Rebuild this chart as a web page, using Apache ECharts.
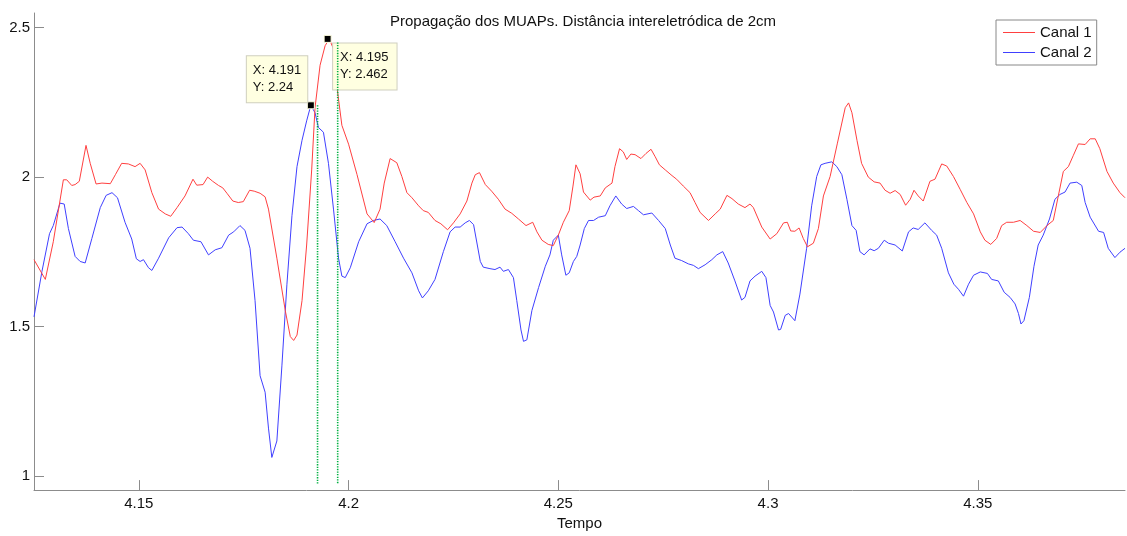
<!DOCTYPE html>
<html><head><meta charset="utf-8">
<script src="https://cdn.jsdelivr.net/npm/echarts@6/dist/echarts.min.js"></script>
<style>html,body{margin:0;padding:0;background:#fff}#c{width:1127px;height:536px}</style>
</head><body><div id="c"></div>
<script>
const titleText = 'Propagação dos MUAPs. Distância intereletródica de 2cm';
const xName = 'Tempo';
const seriesNames = ['Canal 1', 'Canal 2'];
const xTicks = [4.15, 4.2, 4.25, 4.3, 4.35];
const yTicks = [1, 1.5, 2, 2.5];

const canal1T = [4.1250,4.1277,4.1296,4.1320,4.1328,4.1340,4.1348,4.1358,4.1374,4.1384,4.1398,4.1412,4.1432,4.1444,4.1459,4.1475,4.1491,4.1503,4.1515,4.1531,4.1547,4.1563,4.1576,4.1591,4.1610,4.1629,4.1638,4.1653,4.1664,4.1676,4.1690,4.1700,4.1710,4.1724,4.1737,4.1749,4.1764,4.1775,4.1789,4.1801,4.1809,4.1829,4.1849,4.1861,4.1869,4.1877,4.1889,4.1900,4.1912,4.1920,4.1932,4.1944,4.1954,4.1964,4.1972,4.1984,4.2000,4.2020,4.2044,4.2061,4.2075,4.2085,4.2099,4.2115,4.2127,4.2139,4.2151,4.2167,4.2178,4.2190,4.2206,4.2220,4.2236,4.2250,4.2266,4.2282,4.2294,4.2302,4.2312,4.2326,4.2341,4.2357,4.2373,4.2389,4.2405,4.2423,4.2439,4.2449,4.2461,4.2476,4.2488,4.2500,4.2512,4.2526,4.2535,4.2542,4.2552,4.2560,4.2576,4.2585,4.2600,4.2612,4.2628,4.2635,4.2646,4.2655,4.2663,4.2673,4.2683,4.2697,4.2709,4.2721,4.2731,4.2741,4.2755,4.2771,4.2782,4.2798,4.2814,4.2826,4.2838,4.2858,4.2874,4.2886,4.2902,4.2914,4.2929,4.2945,4.2957,4.2965,4.2985,4.3005,4.3021,4.3037,4.3046,4.3054,4.3064,4.3074,4.3084,4.3094,4.3108,4.3120,4.3132,4.3148,4.3165,4.3184,4.3192,4.3200,4.3212,4.3223,4.3239,4.3253,4.3267,4.3279,4.3291,4.3303,4.3315,4.3328,4.3339,4.3348,4.3358,4.3370,4.3386,4.3398,4.3414,4.3426,4.3442,4.3458,4.3474,4.3490,4.3506,4.3517,4.3531,4.3545,4.3557,4.3569,4.3585,4.3601,4.3617,4.3633,4.3649,4.3665,4.3680,4.3692,4.3704,4.3716,4.3728,4.3740,4.3756,4.3768,4.3780,4.3791,4.3808,4.3823,4.3839,4.3851];
const canal1V = [1.724,1.658,1.784,1.991,1.991,1.972,1.975,1.986,2.106,2.046,1.977,1.980,1.978,2.008,2.046,2.044,2.035,2.046,2.024,1.948,1.893,1.877,1.869,1.898,1.937,1.993,1.973,1.975,2.000,1.986,1.972,1.964,1.946,1.920,1.915,1.918,1.956,1.953,1.946,1.934,1.893,1.729,1.554,1.467,1.454,1.472,1.587,1.773,2.024,2.232,2.374,2.439,2.462,2.428,2.304,2.173,2.110,2.009,1.877,1.848,1.893,1.980,2.062,2.048,2.002,1.948,1.931,1.904,1.888,1.882,1.855,1.844,1.824,1.847,1.877,1.920,1.980,2.008,2.015,1.975,1.953,1.926,1.893,1.879,1.860,1.838,1.849,1.817,1.789,1.775,1.771,1.806,1.849,1.888,1.970,2.041,2.011,1.950,1.923,1.933,1.937,1.964,1.980,2.035,2.095,2.084,2.059,2.077,2.075,2.062,2.079,2.093,2.068,2.041,2.024,2.005,1.993,1.970,1.948,1.915,1.882,1.855,1.877,1.893,1.939,1.928,1.910,1.898,1.910,1.898,1.833,1.793,1.811,1.847,1.849,1.820,1.819,1.830,1.795,1.767,1.779,1.828,1.937,2.002,2.111,2.232,2.248,2.215,2.123,2.046,2.000,1.984,1.980,1.956,1.946,1.955,1.942,1.906,1.926,1.956,1.937,1.920,1.986,1.993,2.044,2.037,2.002,1.959,1.915,1.877,1.817,1.789,1.775,1.795,1.838,1.849,1.849,1.855,1.838,1.819,1.815,1.838,1.855,1.937,2.019,2.035,2.073,2.111,2.109,2.128,2.128,2.095,2.019,1.980,1.948,1.931];

const canal2T = [4.1250,4.1269,4.1287,4.1296,4.1312,4.1322,4.1332,4.1348,4.1360,4.1372,4.1388,4.1408,4.1422,4.1436,4.1449,4.1467,4.1483,4.1494,4.1503,4.1511,4.1523,4.1531,4.1547,4.1571,4.1591,4.1603,4.1618,4.1630,4.1648,4.1666,4.1682,4.1698,4.1714,4.1726,4.1741,4.1753,4.1765,4.1777,4.1789,4.1801,4.1809,4.1817,4.1829,4.1841,4.1853,4.1865,4.1877,4.1889,4.1900,4.1910,4.1920,4.1928,4.1940,4.1952,4.1964,4.1976,4.1984,4.1992,4.2004,4.2024,4.2044,4.2059,4.2075,4.2091,4.2111,4.2131,4.2151,4.2167,4.2176,4.2190,4.2206,4.2226,4.2242,4.2254,4.2266,4.2278,4.2288,4.2298,4.2314,4.2321,4.2337,4.2349,4.2361,4.2369,4.2381,4.2393,4.2401,4.2411,4.2417,4.2425,4.2437,4.2453,4.2469,4.2480,4.2488,4.2500,4.2508,4.2518,4.2526,4.2536,4.2544,4.2552,4.2562,4.2572,4.2584,4.2596,4.2612,4.2623,4.2637,4.2651,4.2663,4.2679,4.2691,4.2703,4.2723,4.2739,4.2755,4.2767,4.2778,4.2794,4.2810,4.2822,4.2834,4.2850,4.2866,4.2878,4.2892,4.2905,4.2921,4.2937,4.2945,4.2957,4.2969,4.2985,4.2995,4.3005,4.3013,4.3025,4.3030,4.3041,4.3049,4.3064,4.3076,4.3092,4.3104,4.3116,4.3126,4.3136,4.3152,4.3164,4.3176,4.3188,4.3200,4.3210,4.3219,4.3229,4.3243,4.3253,4.3263,4.3277,4.3287,4.3303,4.3320,4.3335,4.3346,4.3358,4.3374,4.3390,4.3402,4.3414,4.3430,4.3443,4.3454,4.3466,4.3478,4.3490,4.3506,4.3523,4.3533,4.3549,4.3563,4.3577,4.3589,4.3597,4.3603,4.3610,4.3623,4.3634,4.3644,4.3656,4.3671,4.3684,4.3696,4.3708,4.3720,4.3736,4.3748,4.3756,4.3768,4.3788,4.3800,4.3811,4.3827,4.3839,4.3851];
const canal2V = [1.533,1.685,1.811,1.838,1.913,1.910,1.828,1.735,1.718,1.713,1.795,1.898,1.939,1.948,1.931,1.849,1.793,1.727,1.718,1.724,1.697,1.688,1.729,1.797,1.831,1.833,1.811,1.789,1.784,1.740,1.757,1.764,1.806,1.817,1.838,1.822,1.762,1.587,1.336,1.281,1.161,1.063,1.118,1.369,1.642,1.871,2.035,2.123,2.188,2.240,2.215,2.166,2.150,2.046,1.893,1.729,1.669,1.664,1.697,1.784,1.844,1.855,1.860,1.838,1.784,1.729,1.680,1.620,1.596,1.620,1.658,1.751,1.817,1.833,1.833,1.847,1.855,1.841,1.718,1.699,1.694,1.691,1.699,1.685,1.691,1.664,1.587,1.489,1.451,1.456,1.554,1.631,1.702,1.740,1.789,1.806,1.740,1.672,1.680,1.718,1.735,1.773,1.828,1.855,1.855,1.866,1.871,1.904,1.937,1.910,1.895,1.902,1.888,1.874,1.880,1.855,1.828,1.773,1.729,1.721,1.710,1.705,1.694,1.707,1.724,1.740,1.751,1.713,1.653,1.589,1.598,1.653,1.669,1.685,1.664,1.571,1.549,1.489,1.491,1.538,1.544,1.520,1.609,1.762,1.904,2.002,2.041,2.046,2.051,2.035,2.008,1.926,1.838,1.822,1.751,1.740,1.760,1.754,1.762,1.789,1.779,1.773,1.753,1.817,1.830,1.825,1.847,1.822,1.806,1.762,1.680,1.642,1.625,1.602,1.642,1.672,1.683,1.678,1.658,1.653,1.615,1.598,1.576,1.544,1.509,1.520,1.598,1.702,1.773,1.806,1.860,1.926,1.942,1.950,1.980,1.983,1.972,1.915,1.866,1.819,1.815,1.762,1.731,1.749,1.762];

// data tips (X, Y) for Canal 2 and Canal 1
const tipT = [4.191, 4.195];
const tipV = [2.24, 2.462];
// dotted vertical cursors
const cursorT = [4.1926, 4.1974];
const cursorTop = [2.24, 2.45];
const cursorBottom = 0.975;

const FONT = '"Liberation Sans", Arial, sans-serif';
const zip = (a, b) => a.map((t, i) => [t, b[i]]);

const tipLabelBase = {
  show: true, fontFamily: FONT, fontSize: 13, lineHeight: 17, color: '#111',
  backgroundColor: '#ffffe1', borderColor: '#cfcfbf', borderWidth: 1
};

const chart = echarts.init(document.getElementById('c'), null, {renderer: 'canvas'});
chart.setOption({
  animation: false,
  backgroundColor: '#fff',
  title: {
    text: titleText, left: 578, top: 9, textAlign: 'center',
    textStyle: {fontFamily: FONT, fontSize: 15, fontWeight: 'normal', color: '#111'}
  },
  legend: {
    data: seriesNames, orient: 'vertical', left: 996, top: 20,
    icon: 'rect', itemWidth: 32, itemHeight: 1, itemGap: 5,
    padding: [5, 5, 5, 7],
    borderColor: '#888', borderWidth: 1, backgroundColor: '#fff',
    textStyle: {fontFamily: FONT, fontSize: 15, color: '#111'}
  },
  grid: {left: 34, right: 2, top: 13, bottom: 36, containLabel: false},
  xAxis: {
    type: 'value', min: 4.125, max: 4.3851,
    name: xName, nameLocation: 'middle', nameGap: 23,
    nameTextStyle: {fontFamily: FONT, fontSize: 15, color: '#111'},
    axisLine: {onZero: false, lineStyle: {color: '#8c8c8c', width: 1}},
    axisTick: {inside: true, length: 10, customValues: xTicks, lineStyle: {color: '#8c8c8c'}},
    axisLabel: {customValues: xTicks, margin: 6, fontFamily: FONT, fontSize: 15, color: '#111'},
    splitLine: {show: false}
  },
  yAxis: {
    type: 'value', min: 0.9538, max: 2.5485,
    axisLine: {show: true, onZero: false, lineStyle: {color: '#8c8c8c', width: 1}},
    axisTick: {show: true, inside: true, length: 10, customValues: yTicks, lineStyle: {color: '#8c8c8c'}},
    axisLabel: {customValues: yTicks, margin: 4, fontFamily: FONT, fontSize: 15, color: '#111'},
    splitLine: {show: false}
  },
  series: [
    {
      name: seriesNames[0], type: 'line', data: zip(canal1T, canal1V),
      showSymbol: false, symbol: 'none', color: '#ff4040',
      lineStyle: {width: 1, color: '#ff4040'}, z: 3,
      markPoint: {
        symbol: 'rect', symbolSize: 7,
        itemStyle: {color: '#000', borderColor: '#ffffe1', borderWidth: 1},
        data: [{coord: [tipT[1], tipV[1]]}],
        label: Object.assign({}, tipLabelBase, {
          formatter: 'X: ' + tipT[1] + '\nY: ' + tipV[1],
          position: [9.5, 8.5], align: 'left', verticalAlign: 'top', padding: [6, 8, 6, 7]
        })
      }
    },
    {
      name: seriesNames[1], type: 'line', data: zip(canal2T, canal2V),
      showSymbol: false, symbol: 'none', color: '#4040ff',
      lineStyle: {width: 1, color: '#4040ff'}, z: 2,
      markPoint: {
        symbol: 'rect', symbolSize: 7,
        itemStyle: {color: '#000', borderColor: '#ffffe1', borderWidth: 1},
        data: [{coord: [tipT[0], tipV[0]]}],
        label: Object.assign({}, tipLabelBase, {
          formatter: 'X: ' + tipT[0] + '\nY: ' + tipV[0],
          position: [-60, 1], align: 'left', verticalAlign: 'bottom', padding: [6, 6, 6, 6]
        })
      }
    },
    {
      name: 'cursor1', type: 'line', data: [[cursorT[0], cursorTop[0]], [cursorT[0], cursorBottom]],
      showSymbol: false, symbol: 'none', z: 6, silent: true,
      lineStyle: {width: 1.6, color: '#00b040', type: [1.3, 1.3]}
    },
    {
      name: 'cursor2', type: 'line', data: [[cursorT[1], cursorTop[1]], [cursorT[1], cursorBottom]],
      showSymbol: false, symbol: 'none', z: 6, silent: true,
      lineStyle: {width: 1.6, color: '#00b040', type: [1.3, 1.3]}
    }
  ]
});
</script></body></html>
